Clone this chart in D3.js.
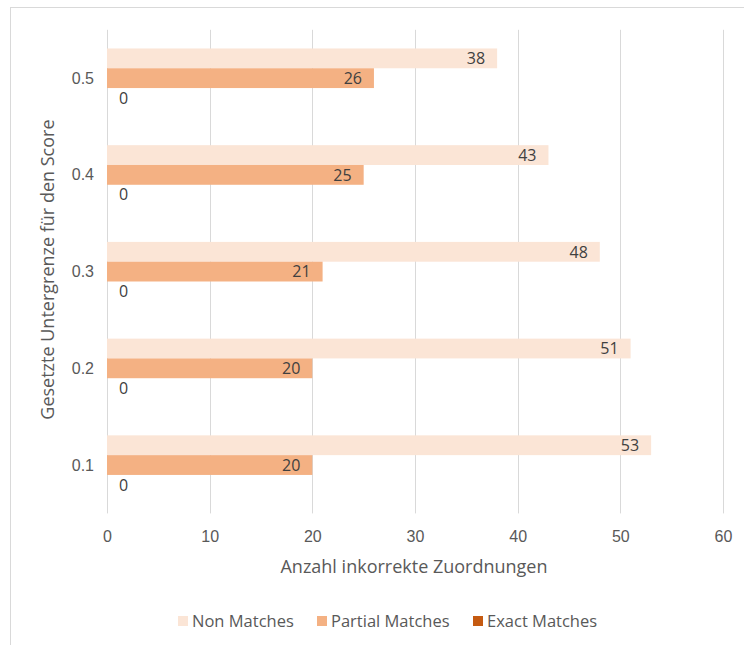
<!DOCTYPE html>
<html>
<head>
<meta charset="utf-8">
<script src="https://cdn.jsdelivr.net/npm/d3@7"></script>
<style>
  html, body { margin: 0; padding: 0; background: #fff; }
  svg { display: block; font-family: "Open Sans", Lato, sans-serif; }
</style>
</head>
<body>
<svg id="chart" width="744" height="645"></svg>
<script>
// Score thresholds (bottom to top) and the incorrect-assignment counts per series
const categories = ["0.1", "0.2", "0.3", "0.4", "0.5"];
const nonMatches = [53, 51, 48, 43, 38];
const partialMatches = [20, 20, 21, 25, 26];
const exactMatches = [0, 0, 0, 0, 0];
const xTicks = [0, 10, 20, 30, 40, 50, 60];
const seriesNames = ["Non Matches", "Partial Matches", "Exact Matches"];
const seriesColors = ["#FBE5D6", "#F4B183", "#C55A11"];

const seriesValues = [nonMatches, partialMatches, exactMatches];
const rows = categories.map((c, i) => ({
  cat: c,
  vals: seriesNames.map((s, k) => ({ series: s, k, value: seriesValues[k][i] }))
}));

const svg = d3.select("#chart");
const textColor = "#595959";
const gridColor = "#D9D9D9";

// chart frame
svg.append("rect")
  .attr("x", 10.5).attr("y", 7.5)
  .attr("width", 760).attr("height", 700)
  .attr("fill", "none").attr("stroke", gridColor).attr("stroke-width", 1);

const plot = { left: 107, right: 723, top: 29.8, bottom: 513.4 };

const x = d3.scaleLinear().domain([0, 60]).range([plot.left, plot.right]);

// highest threshold on top
const y = d3.scaleBand()
  .domain(categories.slice().reverse())
  .range([plot.top, plot.bottom])
  .paddingInner(0.386)
  .paddingOuter(0.193);

const ySub = d3.scaleBand()
  .domain(seriesNames)
  .range([0, y.bandwidth()])
  .padding(0);

// vertical gridlines
svg.append("g")
  .selectAll("line")
  .data(xTicks)
  .join("line")
  .attr("x1", d => Math.round(x(d)) + 0.5)
  .attr("x2", d => Math.round(x(d)) + 0.5)
  .attr("y1", plot.top)
  .attr("y2", plot.bottom)
  .attr("stroke", gridColor)
  .attr("stroke-width", 1);

// x axis tick labels
const xAxis = d3.axisBottom(x).tickValues(xTicks).tickSize(0).tickPadding(0).tickFormat(d3.format("d"));
const xg = svg.append("g")
  .attr("transform", `translate(0,${plot.bottom + 29})`)
  .call(xAxis);
xg.select(".domain").remove();
xg.selectAll("text")
  .attr("fill", textColor)
  .attr("font-size", 16)
  .attr("dy", 0);

// y axis tick labels
const yAxis = d3.axisLeft(y).tickSize(0).tickPadding(0);
const yg = svg.append("g")
  .attr("transform", `translate(${plot.left - 13},0)`)
  .call(yAxis);
yg.select(".domain").remove();
yg.selectAll("text")
  .attr("fill", textColor)
  .attr("font-size", 16)
  .attr("dy", "0.35em");

// bars
const groups = svg.append("g")
  .selectAll("g")
  .data(rows)
  .join("g")
  .attr("transform", d => `translate(0,${y(d.cat)})`);

groups.selectAll("rect")
  .data(d => d.vals)
  .join("rect")
  .attr("x", x(0))
  .attr("y", d => ySub(d.series))
  .attr("width", d => x(d.value) - x(0))
  .attr("height", ySub.bandwidth())
  .attr("fill", d => seriesColors[d.k]);

// value labels at the inside end of each bar
groups.selectAll("text")
  .data(d => d.vals)
  .join("text")
  .attr("x", d => d.value > 0 ? x(d.value) - 12 : x(0) + 12)
  .attr("y", d => ySub(d.series) + ySub.bandwidth() / 2)
  .attr("dy", "0.36em")
  .attr("text-anchor", d => d.value > 0 ? "end" : "start")
  .attr("fill", "#404040")
  .attr("font-size", 16)
  .text(d => d.value);

// axis titles
svg.append("text")
  .attr("x", 414)
  .attr("y", 573)
  .attr("text-anchor", "middle")
  .attr("fill", textColor)
  .attr("font-size", 18)
  .text("Anzahl inkorrekte Zuordnungen");

svg.append("text")
  .attr("transform", `translate(54,${(plot.top + plot.bottom) / 2 - 2}) rotate(-90)`)
  .attr("text-anchor", "middle")
  .attr("fill", textColor)
  .attr("font-size", 18)
  .text("Gesetzte Untergrenze für den Score");

// legend
const legendX = [178, 317, 473];
const legend = svg.append("g")
  .selectAll("g")
  .data(seriesNames)
  .join("g")
  .attr("transform", (d, i) => `translate(${legendX[i]},616)`);
legend.append("rect")
  .attr("width", 10).attr("height", 10)
  .attr("fill", (d, i) => seriesColors[i]);
legend.append("text")
  .attr("x", 14)
  .attr("y", 5)
  .attr("dy", "0.36em")
  .attr("fill", textColor)
  .attr("font-size", 16.5)
  .text(d => d);
</script>
</body>
</html>
